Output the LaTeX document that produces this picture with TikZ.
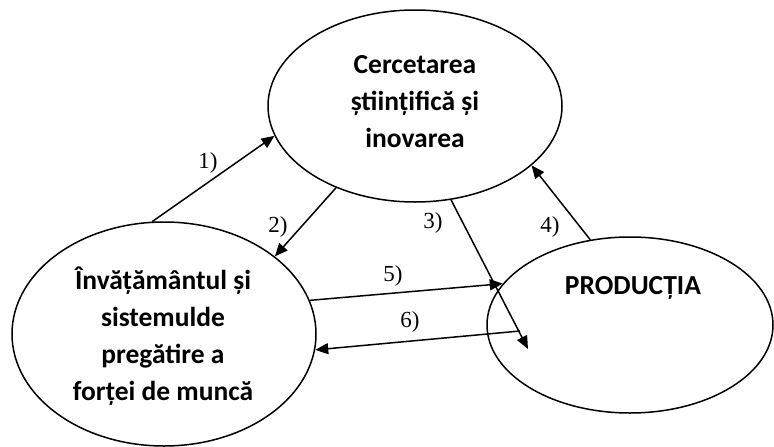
\documentclass[tikz,border=0pt]{standalone}
\usepackage{fontspec}
\setmainfont{Liberation Serif}
\newfontfamily\calfont{Carlito}
\usetikzlibrary{shapes.geometric, arrows.meta, positioning, calc}

\begin{document}
\begin{tikzpicture}[x=1pt, y=-1pt,
    zona/.style={draw, ellipse, line width=1.5pt, inner sep=0pt},
    titlu/.style={font=\calfont\bfseries\fontsize{27.5}{37}\selectfont, align=center},
    sageata/.style={-{Triangle[length=13pt, width=11pt]}, line width=1.5pt},
    nr/.style={font=\fontsize{23}{26}\selectfont}]
      \useasboundingbox (0,0) rectangle (774,447);

      \node[zona, minimum width=294pt, minimum height=192pt] (cerc) at (415,106) {};
      \node[zona, minimum width=304pt, minimum height=224pt] (inv) at (164,334) {};
      \node[zona, minimum width=286pt, minimum height=176pt] (prod) at (630,325) {};

      \node[titlu] (cerctext) at (415,102) {Cercetarea\\științifică și\\inovarea};
      \node[titlu] (invtext) at (163,336) {Învățământul și\\sistemulde\\pregătire a\\forței de muncă};
      \node[titlu] (prodtext) at (633,288) {PRODUCȚIA};

      \coordinate (c3) at (528,349);
      \coordinate (c6) at (520,331);

      \draw[sageata] (inv.96) -- (cerc.192);
      \draw[sageata] (cerc.226) -- (inv.35);
      \draw[sageata] (cerc.291) -- (c3);
      \draw[sageata] (prod.115) -- (cerc.333);
      \draw[sageata] (inv.13) -- (prod.162);
      \draw[sageata] (c6) -- (inv.354);

      \node[nr] (n1) at (208,163) {1)};
      \node[nr] (n2) at (278,227) {2)};
      \node[nr] (n3) at (433,223) {3)};
      \node[nr] (n4) at (550,227) {4)};
      \node[nr] (n5) at (393,276) {5)};
      \node[nr] (n6) at (410,322) {6)};

    \end{tikzpicture}
\end{document}
